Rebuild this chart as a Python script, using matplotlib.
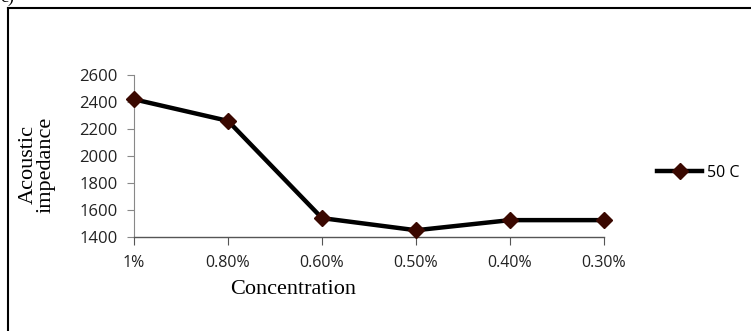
import matplotlib.pyplot as plt
from matplotlib.lines import Line2D

# data
concentration = ["1%", "0.80%", "0.60%", "0.50%", "0.40%", "0.30%"]
impedance_50c = [2420, 2260, 1540, 1450, 1525, 1525]
y_ticks = [1400, 1600, 1800, 2000, 2200, 2400, 2600]

line_color = "#000000"
marker_color = "#3a0800"

fig = plt.figure(figsize=(7.51, 3.31), dpi=100)
W, H = 751, 331

# axes box in pixels: left 134, right 604, top 75, bottom 237
ax = fig.add_axes([134 / W, 1 - 237 / H, (604 - 134) / W, (237 - 75) / H])

x = list(range(len(concentration)))
ax.plot(x, impedance_50c, color=line_color, linewidth=3.2, marker="D",
        markersize=8.5, markerfacecolor=marker_color, markeredgecolor=marker_color,
        solid_joinstyle="round", clip_on=False, zorder=3)

ax.set_xlim(0, len(concentration) - 1)
ax.set_ylim(1400, 2600)
ax.set_xticks(x)
ax.set_xticklabels(concentration, fontsize=11.5, family="Open Sans", color="#222222")
ax.set_yticks(y_ticks)
ax.set_yticklabels([str(v) for v in y_ticks], fontsize=12, family="Open Sans", color="#222222")

for s in ["top", "right"]:
    ax.spines[s].set_visible(False)
ax.spines["left"].set_color("#888888")
ax.spines["bottom"].set_color("#555555")
ax.spines["left"].set_linewidth(0.8)
ax.spines["bottom"].set_linewidth(1.0)
ax.tick_params(axis="y", direction="out", length=5, color="#888888", pad=7)
ax.tick_params(axis="x", direction="out", length=6, color="#555555", pad=7)

fig.text(293 / W, 1 - 289 / H, "Concentration", fontsize=16,
         family="Liberation Serif", ha="center", va="center")
fig.text(37 / W, 1 - 165 / H, "Acoustic\nimpedance", rotation=90, fontsize=16,
         family="Liberation Serif", ha="center", va="center", linespacing=0.9)

# legend
handle = Line2D([], [], color=line_color, linewidth=3.2, marker="D", markersize=8,
                markerfacecolor=marker_color, markeredgecolor=marker_color)
fig.legend([handle], ["50 C"], loc="center left", bbox_to_anchor=(643 / W, 1 - 173 / H),
           frameon=False, prop={"family": "Open Sans", "size": 11.5},
           handlelength=2.8, handletextpad=0.3)

# outer frame (left and top edges only visible)
fig.add_artist(Line2D([7.5 / W, 7.5 / W], [0, 1 - 8 / H], transform=fig.transFigure,
                      color="black", linewidth=1.5))
fig.add_artist(Line2D([7.5 / W, 1], [1 - 8 / H, 1 - 8 / H], transform=fig.transFigure,
                      color="black", linewidth=1.5))
fig.text(0 / W, 1 + 3 / H, "c)", fontsize=13, family="Liberation Serif", va="center")

fig.savefig("out.png", dpi=100)
